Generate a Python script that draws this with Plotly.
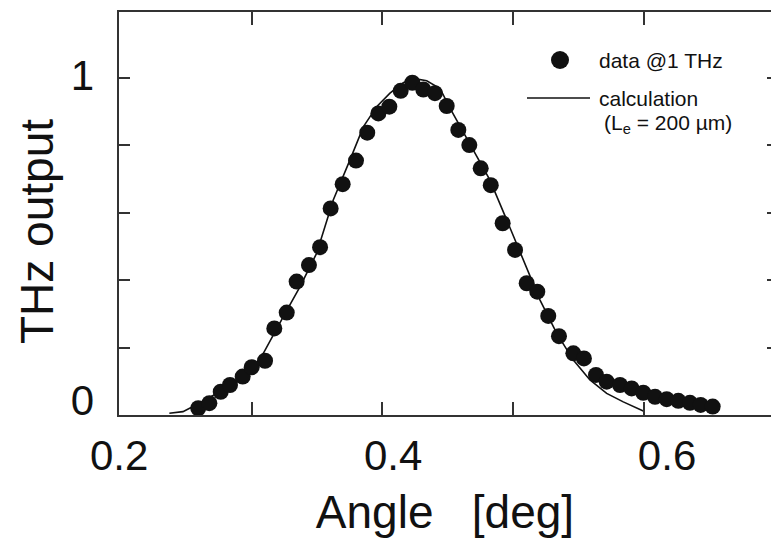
import plotly.graph_objects as go

# measured data @ 1 THz
data_angle = [0.2591, 0.2676, 0.2763, 0.2834, 0.2931, 0.3000, 0.3102, 0.3173, 0.3268, 0.3344,
              0.3438, 0.3523, 0.3604, 0.3696, 0.3798, 0.3884, 0.3969, 0.4053, 0.4140, 0.4229,
              0.4313, 0.4402, 0.4492, 0.4581, 0.4665, 0.4752, 0.4829, 0.4920, 0.5015, 0.5104,
              0.5185, 0.5269, 0.5351, 0.5461, 0.5542, 0.5634, 0.5716, 0.5818, 0.5907, 0.5996,
              0.6086, 0.6175, 0.6264, 0.6353, 0.6435, 0.6527]
data_thz = [0.020, 0.035, 0.069, 0.089, 0.114, 0.142, 0.161, 0.257, 0.304, 0.396,
            0.445, 0.498, 0.613, 0.685, 0.755, 0.838, 0.895, 0.915, 0.962, 0.986,
            0.966, 0.955, 0.917, 0.846, 0.801, 0.732, 0.682, 0.569, 0.490, 0.391,
            0.366, 0.294, 0.234, 0.183, 0.168, 0.119, 0.099, 0.089, 0.079, 0.066,
            0.054, 0.047, 0.042, 0.036, 0.030, 0.025]

# calculation (Le = 200 um)
calc_angle = [0.2370, 0.2474, 0.2551, 0.2732, 0.2987, 0.3089, 0.3242, 0.3370, 0.3497, 0.3624,
              0.3752, 0.3854, 0.3956, 0.4058, 0.4160, 0.4236, 0.4339, 0.4441, 0.4517, 0.4568,
              0.4695, 0.4823, 0.4951, 0.5078, 0.5206, 0.5334, 0.5461, 0.5588, 0.5716, 0.5843,
              0.5996]
calc_thz = [0.005, 0.010, 0.025, 0.064, 0.128, 0.183, 0.292, 0.381, 0.480, 0.638,
            0.757, 0.855, 0.915, 0.955, 0.986, 0.999, 0.992, 0.969, 0.911, 0.875,
            0.786, 0.697, 0.579, 0.460, 0.341, 0.242, 0.163, 0.104, 0.064, 0.039,
            0.012]

x_tick_vals = [0.3, 0.4, 0.5, 0.6]
x_label_vals = [0.2, 0.4, 0.6]
x_label_text = ["0.2", "0.4", "0.6"]
y_tick_vals = [0.2, 0.4, 0.6, 0.8, 1.0]
y_label_vals = [0, 1]
y_label_text = ["0", "1"]

FONT = "Liberation Sans, Arial, Helvetica, sans-serif"
INK = "#111111"
AXC = "#333333"

fig = go.Figure()
fig.add_trace(go.Scatter(x=calc_angle, y=calc_thz, mode="lines",
                         line=dict(color=INK, width=1.6), name="calculation",
                         showlegend=False))
fig.add_trace(go.Scatter(x=data_angle, y=data_thz, mode="markers",
                         marker=dict(color=INK, size=16), name="data @1 THz",
                         showlegend=False))
# empty traces that register the label / right-tick overlay axes
fig.add_trace(go.Scatter(x=[], y=[], xaxis="x2", yaxis="y", showlegend=False, hoverinfo="skip"))
fig.add_trace(go.Scatter(x=[], y=[], xaxis="x", yaxis="y2", showlegend=False, hoverinfo="skip"))
fig.add_trace(go.Scatter(x=[], y=[], xaxis="x", yaxis="y3", showlegend=False, hoverinfo="skip"))

fig.update_layout(
    width=771, height=539,
    margin=dict(l=119, r=0, t=12, b=124),
    paper_bgcolor="white", plot_bgcolor="white",
    font=dict(family=FONT, color=INK),
    showlegend=False,
    xaxis=dict(range=[0.19847, 0.69732], tickvals=x_tick_vals, ticks="inside",
               ticklen=13, tickwidth=1.5, tickcolor=AXC, showticklabels=False,
               showline=True, linewidth=2, linecolor=AXC, mirror="ticks",
               showgrid=False, zeroline=False,
               title=dict(text="Angle   [deg]", font=dict(size=46, family=FONT, color=INK),
                          standoff=80)),
    xaxis2=dict(overlaying="x", anchor="y", side="bottom", range=[0.1999, 0.6759],
                tickvals=x_label_vals, ticktext=x_label_text, ticks="",
                ticklabelstandoff=12,
                showline=False, showgrid=False, zeroline=False,
                tickfont=dict(size=42, family=FONT, color=INK)),
    yaxis=dict(range=[0, 1.196], tickvals=y_tick_vals, ticks="inside", ticklen=11,
               tickwidth=1.5, tickcolor=AXC, showticklabels=False,
               showline=True, linewidth=2, linecolor=AXC, mirror=False,
               showgrid=False, zeroline=False),
    yaxis2=dict(overlaying="y", anchor="x", side="left", range=[-0.0462, 1.1938],
                tickvals=y_label_vals, ticktext=y_label_text, ticks="",
                ticklabelstandoff=24,
                showline=False, showgrid=False, zeroline=False,
                tickfont=dict(size=42, family=FONT, color=INK)),
    yaxis3=dict(overlaying="y", anchor="x", side="right", range=[0, 1.196],
                tickvals=y_tick_vals, ticks="inside", ticklen=4, tickwidth=1.5,
                tickcolor=AXC, showticklabels=False, showline=False,
                showgrid=False, zeroline=False),
)

# y axis title (rotated)
fig.add_annotation(text="THz output", xref="paper", yref="paper",
                   x=(37 - 119) / 652, y=(415 - 232) / 403, textangle=-90,
                   showarrow=False, xanchor="center", yanchor="middle",
                   font=dict(size=46, family=FONT, color=INK))

# legend (drawn manually)
def px(xp):
    return (xp - 119) / 652

def py(yp):
    return (415 - yp) / 403

fig.add_shape(type="circle", xref="paper", yref="paper",
              x0=px(551), x1=px(569), y0=py(69), y1=py(51),
              fillcolor=INK, line=dict(color=INK, width=0))
fig.add_shape(type="line", xref="paper", yref="paper",
              x0=px(527), x1=px(590), y0=py(98), y1=py(98),
              line=dict(color=INK, width=1.6))
fig.add_annotation(text="data @1 THz", xref="paper", yref="paper",
                   x=px(597), y=py(60), xanchor="left", yanchor="middle",
                   showarrow=False, font=dict(size=21, family=FONT, color=INK))
fig.add_annotation(text="calculation", xref="paper", yref="paper",
                   x=px(597), y=py(98), xanchor="left", yanchor="middle",
                   showarrow=False, font=dict(size=21, family=FONT, color=INK))
fig.add_annotation(text="(L<sub>e</sub> = 200 µm)", xref="paper", yref="paper",
                   x=px(602), y=py(124), xanchor="left", yanchor="middle",
                   showarrow=False, font=dict(size=21, family=FONT, color=INK))

fig.write_html("out.html")
